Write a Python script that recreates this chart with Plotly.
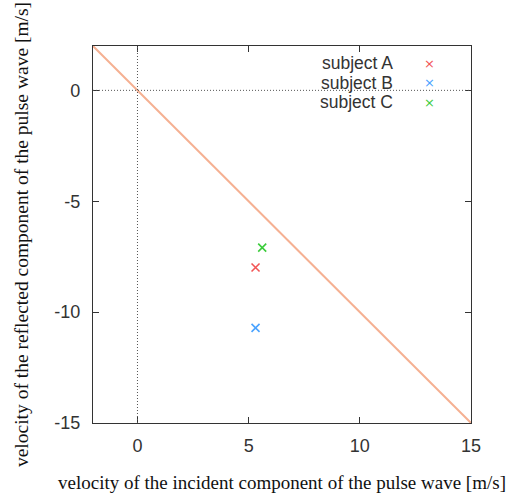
import plotly.graph_objects as go

subjects = ["subject A", "subject B", "subject C"]
incident = [5.31, 5.31, 5.61]
reflected = [-7.99, -10.71, -7.09]
colors = ["#f25555", "#4aa3ff", "#3ccc3c"]

line_x = [-2, 15]
line_y = [2, -15]

x_ticks = [0, 5, 10, 15]
y_ticks = [0, -5, -10, -15]

fig = go.Figure()
fig.add_trace(go.Scatter(x=line_x, y=line_y, mode="lines",
                         line=dict(color="#f5b092", width=2), showlegend=False))
for name, xv, yv, c in zip(subjects, incident, reflected, colors):
    fig.add_trace(go.Scatter(x=[xv], y=[yv], mode="markers", name=name,
                             marker=dict(symbol="x-thin", size=8,
                                         line=dict(color=c, width=1.6)),
                             showlegend=False))

# legend as text + marker (text first, marker on right)
for i, (name, c) in enumerate(zip(subjects, colors)):
    fig.add_annotation(xref="paper", yref="paper", x=0.80, y=1 - (17 + 19.5 * i) / 377,
                       text=name, showarrow=False, xanchor="right", yanchor="middle",
                       font=dict(family="Liberation Sans, Arial", size=17.5, color="#333"))
    fig.add_annotation(xref="paper", yref="paper", x=0.89, y=1 - (17 + 19.5 * i) / 377,
                       text="×", showarrow=False, xanchor="center", yanchor="middle",
                       font=dict(family="DejaVu Sans", size=13, color=c))

axis_common = dict(showgrid=False, showline=True, linecolor="#333", linewidth=1.2,
                   mirror="ticks", ticks="inside", ticklen=6, tickcolor="#333",
                   zeroline=False, automargin=False,
                   tickfont=dict(family="Liberation Sans, Arial", size=18, color="#333"))

fig.update_xaxes(range=[-2, 15], tickvals=x_ticks, ticktext=[str(v) for v in x_ticks],
                 ticklabelstandoff=6,
                 title=dict(text="velocity of the incident component of the pulse wave [m/s]",
                            font=dict(family="Liberation Serif, Times New Roman", size=19, color="#111"),
                            standoff=24),
                 **axis_common)
fig.update_yaxes(range=[-15, 2], tickvals=y_ticks, ticktext=[str(v) for v in y_ticks],
                 ticklabelstandoff=8,
                 title=dict(text="velocity of the reflected component of the pulse wave [m/s]",
                            font=dict(family="Liberation Serif, Times New Roman", size=19.5, color="#111"),
                            standoff=20),
                 **axis_common)

# dotted zero lines
fig.add_shape(type="line", xref="x", yref="paper", x0=0, x1=0, y0=0, y1=1,
              line=dict(color="#555", width=1, dash="1px,2px"))
fig.add_shape(type="line", xref="paper", yref="y", x0=0, x1=1, y0=0, y1=0,
              line=dict(color="#555", width=1, dash="1px,2px"))

fig.update_layout(width=506, height=493, margin=dict(l=93, r=35, t=46, b=70),
                  plot_bgcolor="white", paper_bgcolor="white", showlegend=False)

fig.write_html("out.html")
